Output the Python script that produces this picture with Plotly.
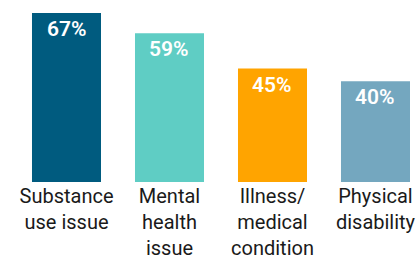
import plotly.graph_objects as go

categories = ["Substance<br>use issue", "Mental<br>health<br>issue", "Illness/<br>medical<br>condition", "Physical<br>disability"]
values = [67, 59, 45, 40]
colors = ["#005B7F", "#5FCDC4", "#FFA400", "#74A7BF"]

x = list(range(len(values)))

fig = go.Figure()
fig.add_trace(go.Bar(x=x, y=values, marker=dict(color=colors, line=dict(width=0)), width=0.67,
                     hoverinfo="skip"))

for xi, v in zip(x, values):
    fig.add_annotation(x=xi, y=v, text=f"{v}%", showarrow=False, yanchor="top", yshift=-2,
                       font=dict(family="Roboto", size=21, color="white", weight=600))

fig.update_layout(
    width=417, height=257,
    margin=dict(l=0, r=0, t=0, b=75, autoexpand=False),
    paper_bgcolor="white", plot_bgcolor="white",
    showlegend=False,
    xaxis=dict(range=[-0.6456, 3.403], tickmode="array", tickvals=x, ticktext=categories,
               showgrid=False, zeroline=False, showline=False, ticks="", automargin=False,
               tickfont=dict(family="Roboto", size=20, color="#1a1a1a"), tickangle=0),
    yaxis=dict(range=[0, 72.2], visible=False, automargin=False),
)

fig.write_html("out.html", config={"displayModeBar": False},
               post_script="document.body.style.margin='0';document.body.style.overflow='hidden';")
